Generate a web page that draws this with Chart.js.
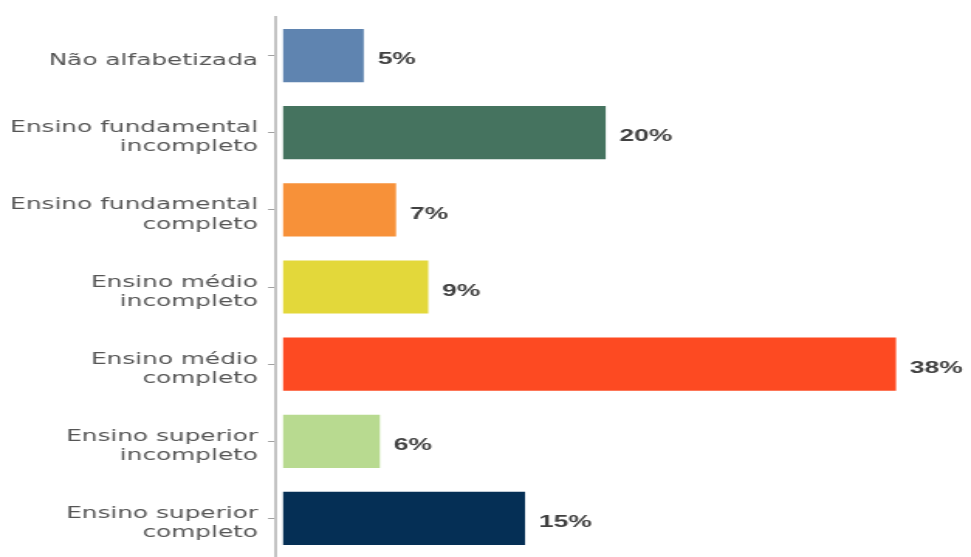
<!DOCTYPE html>
<html>
<head>
<meta charset="utf-8">
<script src="https://cdn.jsdelivr.net/npm/chart.js@4.4.0/dist/chart.umd.min.js"></script>
<style>
  html, body { margin: 0; padding: 0; background: #ffffff; }
  /* canvas desenhado mais estreito e esticado na horizontal */
  #escolaridade { display: block; width: 971px !important; height: 557px !important; }
</style>
</head>
<body>
<canvas id="escolaridade" width="627" height="557" style="width:971px;height:557px"></canvas>
<script>
const categorias = [
    'Não alfabetizada',
    ['Ensino fundamental', 'incompleto'],
    ['Ensino fundamental', 'completo'],
    ['Ensino médio', 'incompleto'],
    ['Ensino médio', 'completo'],
    ['Ensino superior', 'incompleto'],
    ['Ensino superior', 'completo']
];
const percentuais = [5, 20, 7, 9, 38, 6, 15];
const cores = ['#5f84b0', '#45735f', '#f79139', '#e3d83a', '#fd4a22', '#b8da90', '#052f55'];

// valor em % ao lado de cada barra
const rotulos = {
    id: 'rotulos',
    afterDatasetsDraw(chart) {
        const ctx = chart.ctx;
        const meta = chart.getDatasetMeta(0);
        ctx.save();
        ctx.font = 'bold 17px "Liberation Sans"';
        ctx.fillStyle = '#404040';
        ctx.textAlign = 'left';
        ctx.textBaseline = 'middle';
        meta.data.forEach((bar, i) => {
            ctx.fillText(percentuais[i] + '%', bar.x + 9, bar.y + 4);
        });
        ctx.restore();
    }
};

new Chart(document.getElementById('escolaridade'), {
    type: 'bar',
    data: {
        labels: categorias,
        datasets: [{
            data: percentuais,
            backgroundColor: cores,
            borderWidth: 0,
            barPercentage: 0.69,
            categoryPercentage: 1
        }]
    },
    options: {
        indexAxis: 'y',
        responsive: false,
        animation: false,
        devicePixelRatio: 1,
        layout: { padding: { top: 17, right: 27.6, bottom: 0, left: 0 } },
        plugins: {
            legend: { display: false },
            tooltip: { enabled: false }
        },
        scales: {
            x: {
                display: false,
                min: -0.5,
                max: 40
            },
            y: {
                afterFit(scale) {
                    scale.width = 177.6;
                    scale.paddingTop = 0;
                    scale.paddingBottom = 0;
                },
                border: { display: true, color: '#c4c4c4', width: 2 },
                grid: {
                    offset: false,
                    drawOnChartArea: false,
                    drawTicks: true,
                    tickLength: 4.5,
                    color: '#a0a0a0',
                    lineWidth: 1
                },
                ticks: {
                    padding: 6.5,
                    labelOffset: 5,
                    color: '#555555',
                    font: { family: '"DejaVu Sans"', size: 16, lineHeight: 1.2 }
                }
            }
        }
    },
    plugins: [rotulos]
});
</script>
</body>
</html>
